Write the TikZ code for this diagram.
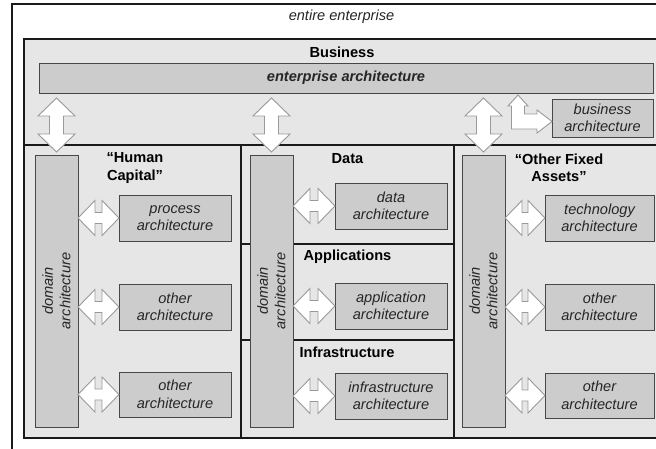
\documentclass[tikz,border=0pt]{standalone}
\usepackage{fontspec}
\setmainfont{Liberation Sans}
\usetikzlibrary{calc}
\definecolor{bg}{HTML}{E6E6E6}
\definecolor{bx}{HTML}{CCCCCC}
\definecolor{ln}{HTML}{1A1A1A}
\definecolor{bxln}{HTML}{474747}
\definecolor{arln}{HTML}{999999}
\newcommand\VArr[1]{\draw[blockarrow] let \p1=(#1.north), \p2=(bizbar.south), \n1={\y2-\y1-8pt-36pt} in
  ({\x1},{\y1+3pt}) -- ++(18.5pt,18pt) -- ++(-11.5pt,0pt) -- ++(0pt,\n1) -- ++(11.5pt,0pt) -- ++(-18.5pt,18pt)
  -- ++(-18.5pt,-18pt) -- ++(11.5pt,0pt) -- ++(0pt,-\n1) -- ++(-11.5pt,0pt) -- cycle;}
\newcommand\HArr[2]{\draw[blockarrow] let \p1=(#1.east |- #2.west), \p2=(#2.west), \n1={\x2-\x1-34pt} in
  (\p1) -- ++(17pt,17.5pt) -- ++(0pt,-12pt) -- ++(\n1,0pt) -- ++(0pt,12pt) -- (\p2)
  -- ++(-17pt,-17.5pt) -- ++(0pt,12pt) -- ++(-\n1,0pt) -- ++(0pt,-12pt) -- cycle;}
\begin{document}
\begin{tikzpicture}[x=1pt,y=-1pt,
  every node/.style={font=\fontsize{14.6}{17.5}\selectfont, inner sep=0pt, outer sep=0pt, text=black!85},
  region/.style={draw=ln, line width=1.2pt, fill=bg},
  subbox/.style={draw=bxln, line width=0.9pt, fill=bx, align=center, font=\fontsize{14.6}{17.5}\selectfont\itshape},
  dombar/.style={draw=bxln, line width=0.9pt, fill=bx, minimum width=43pt, minimum height=272pt},
  domtext/.style={rotate=90, align=center, font=\fontsize{14.6}{17.5}\selectfont\itshape},
  blockarrow/.style={draw=arln, fill=white, line width=0.9pt, line join=miter},
  title/.style={align=center, font=\fontsize{14.6}{17.5}\selectfont\bfseries, text=black}]
\useasboundingbox (0,0) rectangle (656,448);
\clip (0,0) rectangle (656,448);
% outer frame
\draw[line width=1.3pt, draw=ln, fill=white] (12,4) rectangle (690,480);
\node (ent) at (341.5,16.5) {\itshape entire enterprise};
% business region
\draw[region] (24,39) rectangle (690,146);
\node[title] (bus) at (342,52) {Business};
\node[subbox, minimum width=614pt, minimum height=30pt,
  font=\fontsize{14.6}{17.5}\selectfont\bfseries\itshape] (bizbar) at (346,78) {enterprise architecture};
\node[subbox, minimum width=101pt, minimum height=38pt] (busarch) at (602.5,118) {business\\architecture};
% columns
\draw[region] (24,145) rectangle (241,438);
\draw[region] (241,145) rectangle (454,438);
\draw[region] (454,145) rectangle (690,438);
\draw[draw=ln, line width=1.2pt] (241,244) -- (454,244);
\draw[draw=ln, line width=1.2pt] (241,340) -- (454,340);
% titles
\node[title] (hc) at (135,168) {“Human\\Capital”};
\node[title] (data) at (347.5,159) {Data};
\node[title] (apps) at (347.5,257) {Applications};
\node[title] (infra) at (347,352) {Infrastructure};
\node[title] (ofa) at (559,168) {“Other Fixed\\Assets”};
% domain bars
\node[dombar] (dom1) at (56.5,291) {};
\node[domtext] (dom1t) at (dom1) {domain\\architecture};
\node[dombar] (dom2) at (271.5,291) {};
\node[domtext] (dom2t) at (dom2) {domain\\architecture};
\node[dombar] (dom3) at (483.5,291) {};
\node[domtext] (dom3t) at (dom3) {domain\\architecture};
% sub boxes
\node[subbox, minimum width=112pt, minimum height=46pt] (proc) at (175,218) {process\\architecture};
\node[subbox, minimum width=112pt, minimum height=46pt] (oth1) at (175,307) {other\\architecture};
\node[subbox, minimum width=112pt, minimum height=45pt] (oth2) at (175,394.5) {other\\architecture};
\node[subbox, minimum width=112pt, minimum height=46pt] (darch) at (391,206) {data\\architecture};
\node[subbox, minimum width=112pt, minimum height=46pt] (aarch) at (391,306) {application\\architecture};
\node[subbox, minimum width=112pt, minimum height=46pt] (iarch) at (391,396) {infrastructure\\architecture};
\node[subbox, minimum width=109pt, minimum height=46pt] (tarch) at (599.5,218) {technology\\architecture};
\node[subbox, minimum width=109pt, minimum height=46pt] (oth3) at (599.5,307) {other\\architecture};
\node[subbox, minimum width=109pt, minimum height=45pt] (oth4) at (599.5,395.5) {other\\architecture};
% vertical block arrows
\VArr{dom1}
\VArr{dom2}
\VArr{dom3}
% horizontal block arrows
\HArr{dom1}{proc}
\HArr{dom1}{oth1}
\HArr{dom1}{oth2}
\HArr{dom2}{darch}
\HArr{dom2}{aarch}
\HArr{dom2}{iarch}
\HArr{dom3}{tarch}
\HArr{dom3}{oth3}
\HArr{dom3}{oth4}
% bent arrow to business architecture
\draw[blockarrow] (518,95) -- (528,106) -- (524.5,106) -- (524.5,114) -- (537,114) -- (537,110)
  -- (busarch.west |- 0,121.5) -- (537,133) -- (537,129) -- (511.5,129) -- (511.5,106) -- (508,106) -- cycle;
\end{tikzpicture}
\end{document}
